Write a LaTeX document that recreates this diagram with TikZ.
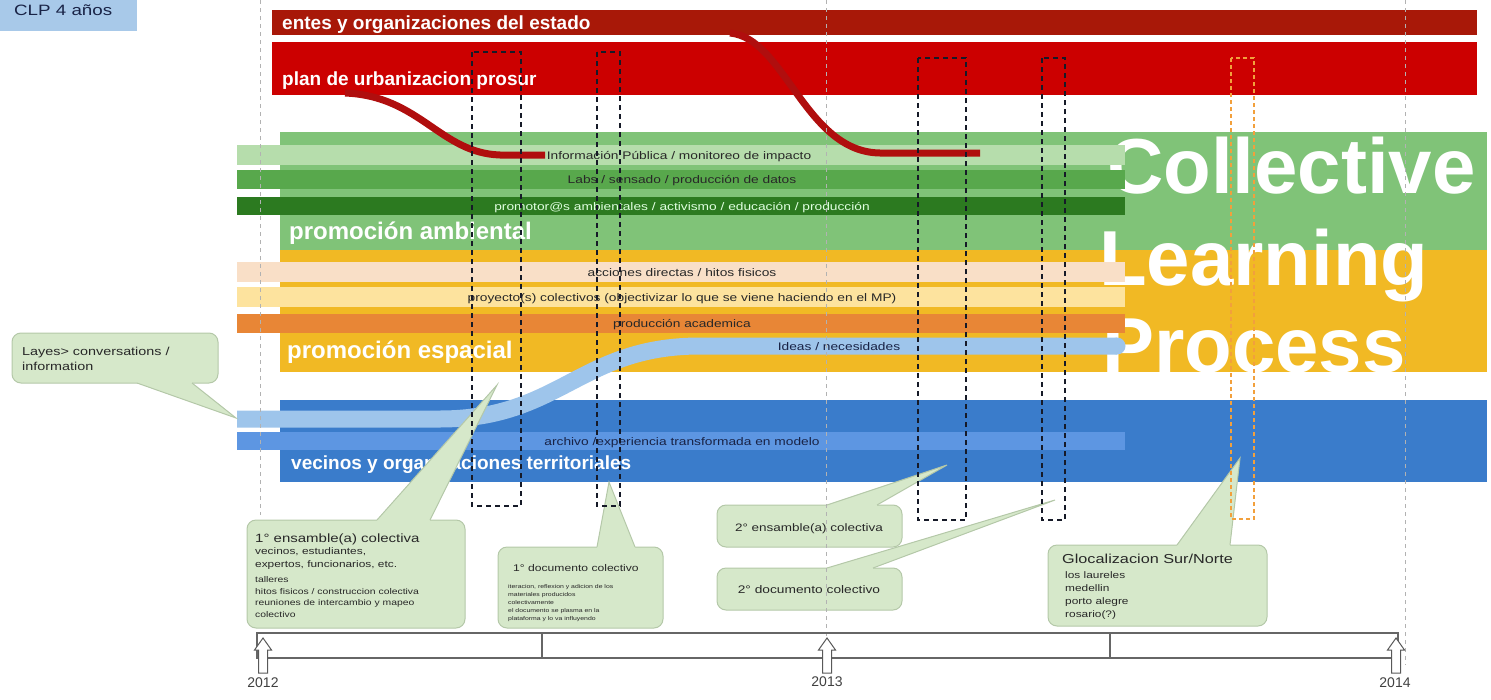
\documentclass[tikz,border=0pt]{standalone}
\usepackage{fontspec}
\setmainfont{Liberation Sans}
\newfontfamily\widefont[FakeStretch=1.25]{Liberation Sans}

\definecolor{clpblue}{RGB}{168,201,233}
\definecolor{entesred}{RGB}{168,24,8}
\definecolor{planred}{RGB}{204,0,0}
\definecolor{curvered}{RGB}{176,14,14}
\definecolor{greenmain}{RGB}{128,195,120}
\definecolor{greenlight}{RGB}{182,221,172}
\definecolor{greenmid}{RGB}{88,168,76}
\definecolor{greendark}{RGB}{44,122,32}
\definecolor{yellowmain}{RGB}{241,185,36}
\definecolor{peach}{RGB}{249,223,199}
\definecolor{paleyellow}{RGB}{253,227,158}
\definecolor{orangeband}{RGB}{232,134,54}
\definecolor{bluemain}{RGB}{58,124,203}
\definecolor{bluelight}{RGB}{158,197,235}
\definecolor{bluemid}{RGB}{93,150,226}
\definecolor{callfill}{RGB}{214,232,202}
\definecolor{callline}{RGB}{180,200,168}
\definecolor{boxink}{RGB}{22,26,40}
\definecolor{glocorange}{RGB}{242,160,60}
\definecolor{ink}{RGB}{40,40,40}
\definecolor{navyink}{RGB}{25,35,70}

% tail of a speech bubble: inner-left, left, tip, right, inner-right
\newcommand\calltail[5]{%
  \fill[callfill] #1 -- #2 -- #3 -- #4 -- #5 -- cycle;
  \draw[callline, line width=1pt] #2 -- #3 -- #4;}
% hollow up arrow marking a year on the time line
\newcommand\yeararrow[1]{%
  \filldraw[yeararrowst] (#1,638) -- (#1+8.5,650) -- (#1+4.5,650) -- (#1+4.5,673)
    -- (#1-4.5,673) -- (#1-4.5,650) -- (#1-8.5,650) -- cycle;}

\begin{document}
\begin{tikzpicture}[x=1pt,y=-1pt,
  sublabel/.style={font=\widefont\fontsize{11}{13}\selectfont, text=ink, inner sep=0, anchor=base},
  bandlabel/.style={font=\bfseries\fontsize{19}{22}\selectfont, text=white, inner sep=0, anchor=base west},
  zonelabel/.style={font=\bfseries\fontsize{24}{28}\selectfont, text=white, inner sep=0, anchor=base west},
  biglabel/.style={font=\bfseries\fontsize{78}{80}\selectfont, text=white, inner sep=0, anchor=base west},
  callout/.style={fill=callfill, draw=callline, line width=1pt, rounded corners=9pt},
  calltext/.style={font=\widefont\fontsize{#1}{#1}\selectfont, text=ink, inner sep=0, anchor=base west},
  calltext/.default=10,
  dashbox/.style={draw=boxink, line width=1.8pt, dash pattern=on 5pt off 4pt},
  glocbox/.style={draw=glocorange, line width=1.3pt, dash pattern=on 4pt off 3pt},
  yearline/.style={draw=gray!60, line width=0.9pt, dash pattern=on 4pt off 4pt},
  tline/.style={draw=black!60, line width=1.2pt},
  yeararrowst/.style={fill=white, draw=black!65, line width=1pt},
  yeartext/.style={font=\fontsize{14}{16}\selectfont, text=black!75, inner sep=0, anchor=base},
]
\useasboundingbox (0,0) rectangle (1491,699);

% legend box
\fill[clpblue] (0,0) rectangle (137,31);
\node[font=\widefont\fontsize{15}{15}\selectfont, text=navyink, inner sep=0, anchor=base west]
  (clp) at (14,15) {CLP 4 años};

% main bands
\fill[entesred] (272,10) rectangle (1477,35);
\fill[planred] (272,42) rectangle (1477,95);
\fill[greenmain] (280,132) rectangle (1487,250);
\fill[yellowmain] (280,250) rectangle (1487,372);
\fill[bluemain] (280,400) rectangle (1487,482);

% large title
\node[biglabel] (collective) at (1107,193) {Collective};
\node[biglabel] (learning) at (1099,285) {Learning};
\node[biglabel] (process) at (1102,372) {Process};

% band labels
\node[bandlabel] (entes) at (282,29) {entes y organizaciones del estado};
\node[bandlabel] (plan) at (282,85) {plan de urbanizacion prosur};
\node[zonelabel] (ambiental) at (289,239) {promoción ambiental};
\node[zonelabel] (espacial) at (287,358) {promoción espacial};
\node[bandlabel] (vecinos) at (291,469) {vecinos y organizaciones territoriales};

% sub-bands
\fill[greenlight] (237,145) rectangle (1125,165);
\fill[greenmid] (237,170) rectangle (1125,189);
\fill[greendark] (237,197) rectangle (1125,215);
\fill[peach] (237,262) rectangle (1125,282);
\fill[paleyellow] (237,287) rectangle (1125,307);
\fill[orangeband] (237,314) rectangle (1125,333);
\fill[bluemid] (237,432) rectangle (1125,450);

% ideas / needs stream
\draw[bluelight, line width=17pt] (237,419) -- (440,419)
  .. controls (560,419) and (580,346) .. (700,346) -- (1117,346);
\fill[bluelight] (1117,346) circle (8.5);

% public-plan streams
\draw[curvered, line width=7pt] (345,93) .. controls (420,96) and (440,153) .. (500,155) -- (545,155);
\draw[curvered, line width=7pt] (730,33) .. controls (785,38) and (805,152) .. (880,153) -- (980,153);

% sub-band labels
\node[sublabel] (infopub) at (679,159) {Información Pública / monitoreo de impacto};
\node[sublabel] (labs) at (682,183) {Labs / sensado / producción de datos};
\node[sublabel, text=white!88!green] (promotores) at (682,210) {promotor@s ambientales / activismo / educación / producción};
\node[sublabel] (acciones) at (682,276) {acciones directas / hitos fisicos};
\node[sublabel] (proyectos) at (682,301) {proyecto(s) colectivos (objectivizar lo que se viene haciendo en el MP)};
\node[sublabel] (academica) at (682,327) {producción academica};
\node[sublabel, text=navyink] (ideas) at (839,350) {Ideas / necesidades};
\node[sublabel, text=navyink] (archivo) at (682,445) {archivo /experiencia transformada en modelo};

% call-outs
\filldraw[callout] (12,333) rectangle (218,383);
\calltail{(137,377)}{(137,383)}{(236,418)}{(192,383)}{(192,377)}
\node[calltext=11.5] (layes1) at (22,355) {Layes> conversations /};
\node[calltext=11.5] (layes2) at (22,370) {information};

\filldraw[callout] (247,520) rectangle (465,628);
\calltail{(377,526)}{(377,520)}{(497,385)}{(430,520)}{(430,526)}
\node[calltext=12] (ens1) at (255,542) {1° ensamble(a) colectiva};
\node[calltext=9.5] (ens1a) at (255,554) {vecinos, estudiantes,};
\node[calltext=9.5] (ens1b) at (255,567) {expertos, funcionarios, etc.};
\node[calltext=8.3] (ens1c) at (255,582) {talleres};
\node[calltext=8.3] (ens1d) at (255,594) {hitos fisicos / construccion colectiva};
\node[calltext=8.3] (ens1e) at (255,605) {reuniones de intercambio y mapeo};
\node[calltext=8.3] (ens1f) at (255,617) {colectivo};

\filldraw[callout] (498,547) rectangle (663,628);
\calltail{(597,553)}{(597,547)}{(609,482)}{(635,547)}{(635,553)}
\node[calltext=9.7] (doc1) at (513,571) {1° documento colectivo};
\node[calltext=5.5] (doc1a) at (508,588) {iteracion, reflexion y adicion de los};
\node[calltext=5.5] (doc1b) at (508,596) {materiales producidos};
\node[calltext=5.5] (doc1c) at (508,604) {colectivamente};
\node[calltext=5.5] (doc1d) at (508,612) {el documento se plasma en la};
\node[calltext=5.5] (doc1e) at (508,620) {plataforma y lo va influyendo};

\filldraw[callout] (717,505) rectangle (902,547);
\calltail{(827,511)}{(827,505)}{(947,465)}{(877,505)}{(877,511)}
\node[calltext=10.8, anchor=base] (ens2) at (809,531) {2° ensamble(a) colectiva};

\filldraw[callout] (717,568) rectangle (902,610);
\calltail{(827,574)}{(827,568)}{(1055,500)}{(873,568)}{(873,574)}
\node[calltext=11, anchor=base] (doc2) at (809,593) {2° documento colectivo};

\filldraw[callout] (1048,545) rectangle (1267,626);
\calltail{(1177,551)}{(1177,545)}{(1240,458)}{(1230,545)}{(1230,551)}
\node[calltext=13] (gloc) at (1062,563) {Glocalizacion Sur/Norte};
\node[calltext=9.5] (gloca) at (1065,578) {los laureles};
\node[calltext=9.5] (glocb) at (1065,591) {medellin};
\node[calltext=9.5] (glocc) at (1065,604) {porto alegre};
\node[calltext=9.5] (glocd) at (1065,617) {rosario(?)};

% moments framed in time
\draw[dashbox] (472,52) rectangle (521,506);
\draw[dashbox] (597,52) rectangle (620,506);
\draw[dashbox] (918,58) rectangle (966,520);
\draw[dashbox] (1042,58) rectangle (1065,520);
\draw[glocbox] (1231,58) rectangle (1254,519);

% year guides
\draw[yearline] (260,0) -- (260,515);
\draw[yearline] (826,0) -- (826,640);
\draw[yearline] (1405,0) -- (1405,665);

% time line
\draw[tline] (257,633) rectangle (1398,658);
\draw[tline] (542,633) -- (542,658);
\draw[tline] (1110,633) -- (1110,658);
\yeararrow{263}
\yeararrow{827}
\yeararrow{1396}
\node[yeartext] (y2012) at (263,687) {2012};
\node[yeartext] (y2013) at (827,686) {2013};
\node[yeartext] (y2014) at (1395,687) {2014};
\end{tikzpicture}
\end{document}
